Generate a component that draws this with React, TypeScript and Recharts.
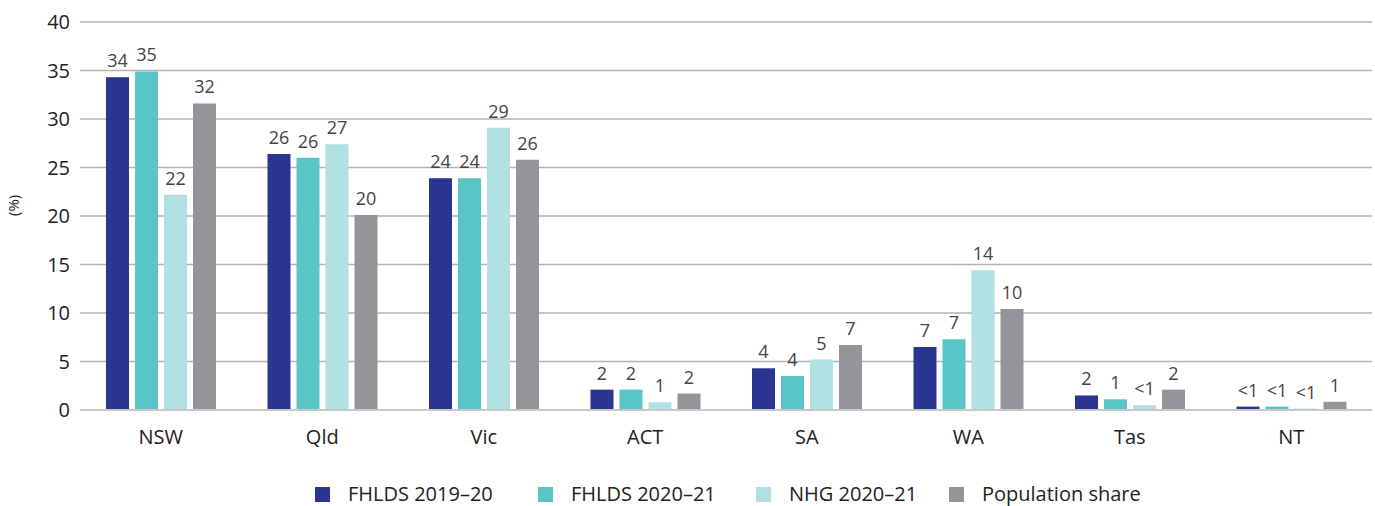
import React from 'react';
import { BarChart, Bar, XAxis, YAxis, CartesianGrid, Legend, LabelList } from 'recharts';

const STATES = ['NSW', 'Qld', 'Vic', 'ACT', 'SA', 'WA', 'Tas', 'NT'];

const FHLDS_1920 = [34.3, 26.4, 23.9, 2.1, 4.3, 6.5, 1.5, 0.35];
const FHLDS_2021 = [34.9, 26.0, 23.9, 2.1, 3.5, 7.3, 1.1, 0.35];
const NHG_2021 = [22.2, 27.4, 29.1, 0.8, 5.2, 14.4, 0.5, 0.15];
const POP_SHARE = [31.6, 20.1, 25.8, 1.7, 6.7, 10.4, 2.1, 0.85];

const FHLDS_1920_LABELS = ['34', '26', '24', '2', '4', '7', '2', '<1'];
const FHLDS_2021_LABELS = ['35', '26', '24', '2', '4', '7', '1', '<1'];
const NHG_2021_LABELS = ['22', '27', '29', '1', '5', '14', '<1', '<1'];
const POP_SHARE_LABELS = ['32', '20', '26', '2', '7', '10', '2', '1'];

const Y_TICKS = [0, 5, 10, 15, 20, 25, 30, 35, 40];

const COLORS = ['#2a3590', '#58c5c6', '#b0e0e2', '#939598'];
const FONT = '"Open Sans", sans-serif';

const data = STATES.map((name, i) => ({
    name,
    a: FHLDS_1920[i], aLabel: FHLDS_1920_LABELS[i],
    b: FHLDS_2021[i], bLabel: FHLDS_2021_LABELS[i],
    c: NHG_2021[i], cLabel: NHG_2021_LABELS[i],
    d: POP_SHARE[i], dLabel: POP_SHARE_LABELS[i],
}));

const series = [
    { key: 'a', name: 'FHLDS 2019–20' },
    { key: 'b', name: 'FHLDS 2020–21' },
    { key: 'c', name: 'NHG 2020–21' },
    { key: 'd', name: 'Population share' },
];

// legend slot widths so the swatches land where the original puts them
const LEGEND_SLOTS = [223, 218, 193, 200];

const renderLegend = () => (
    <div style={{ display: 'flex', paddingLeft: 315, height: 24, lineHeight: '24px', fontFamily: FONT, fontSize: 20, color: '#222' }}>
        {series.map((s, i) => (
            <div key={s.key} style={{ display: 'flex', alignItems: 'center', width: LEGEND_SLOTS[i], whiteSpace: 'nowrap' }}>
                <span style={{ width: 15, height: 15, background: COLORS[i], display: 'inline-block', marginRight: 18, flexShrink: 0 }} />
                <span>{s.name}</span>
            </div>
        ))}
    </div>
);

export default function App() {
    return (
        <div style={{ position: 'absolute', left: 0, top: 0, background: '#fff' }}>
            <BarChart
                width={1375}
                height={506}
                data={data}
                margin={{ top: 22, right: 3, left: 0, bottom: 0 }}
                barSize={23}
                barGap={6}
            >
                <CartesianGrid vertical={false} stroke="#b3b3b3" strokeWidth={1.5} />
                <XAxis
                    dataKey="name"
                    axisLine={{ stroke: '#c8c8c8', strokeWidth: 2 }}
                    tickLine={false}
                    tickMargin={14}
                    height={72}
                    tick={{ fill: '#222', fontSize: 20, fontFamily: FONT }}
                />
                <YAxis
                    domain={[0, 40]}
                    ticks={Y_TICKS}
                    width={80}
                    axisLine={false}
                    tickLine={false}
                    tickMargin={4}
                    tick={{ fill: '#222', fontSize: 20, fontFamily: FONT }}
                    label={{ value: '(%)', angle: -90, position: 'insideLeft', offset: 14, style: { fontSize: 15, fontFamily: FONT, fill: '#222' } }}
                />
                <Legend verticalAlign="bottom" content={renderLegend} />
                {series.map((s, i) => (
                    <Bar key={s.key} dataKey={s.key} name={s.name} fill={COLORS[i]} isAnimationActive={false}>
                        <LabelList dataKey={s.key + 'Label'} position="top" offset={10} style={{ fill: '#444', fontSize: 18, fontFamily: FONT }} />
                    </Bar>
                ))}
            </BarChart>
        </div>
    );
}
